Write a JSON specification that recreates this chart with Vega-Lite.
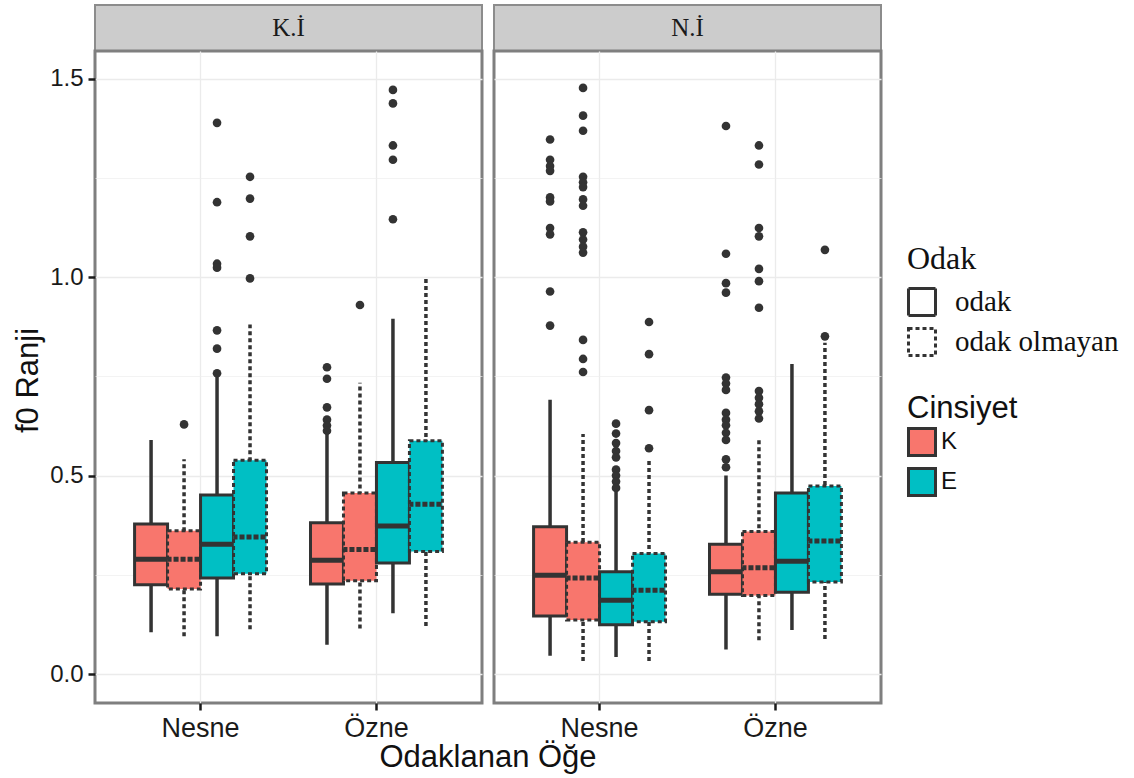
{
  "$schema": "https://vega.github.io/schema/vega-lite/v6.json",
  "padding": {"left": 11, "top": 4, "right": 5, "bottom": 5},
  "background": "white",
  "bounds": "flush",
  "columns": 2,
  "spacing": {"row": 0, "column": 12},
  "title": {"text": "Odaklanan Öğe", "orient": "bottom", "anchor": "middle", "frame": "group", "dx": 393, "fontSize": 31, "font": "Liberation Sans", "fontWeight": "normal", "color": "#111111", "offset": 0},
  "config": {
    "font": "Liberation Sans",
    "view": {"stroke": "#7f7f7f", "strokeWidth": 3},
    "axis": {"domain": false, "labelColor": "#1a1a1a", "titleColor": "#111111", "tickColor": "#1a1a1a", "tickWidth": 2.5, "tickSize": 7, "gridColor": "#ebebeb", "gridWidth": 1.3, "labelFont": "Liberation Sans", "titleFont": "Liberation Sans", "titleFontWeight": "normal", "labelFontSize": 24, "titleFontSize": 31, "labelPadding": 5},
    "legend": {"titleFontWeight": "normal", "titleColor": "#111111", "labelColor": "#111111", "labelLimit": 400}
  },
  "datasets": {
    "paneller": [{"panel": "K.İ"}, {"panel": "N.İ"}],
    "kutular": [
      {"panel": "K.İ", "oge": "Nesne", "cins": "K", "odak": "odak", "sira": "K-odak", "alt": 0.105, "q1": 0.225, "medyan": 0.289, "q3": 0.378, "ust": 0.590},
      {"panel": "K.İ", "oge": "Nesne", "cins": "K", "odak": "odak olmayan", "sira": "K-odak olmayan", "alt": 0.095, "q1": 0.214, "medyan": 0.289, "q3": 0.361, "ust": 0.541},
      {"panel": "K.İ", "oge": "Nesne", "cins": "E", "odak": "odak", "sira": "E-odak", "alt": 0.095, "q1": 0.242, "medyan": 0.327, "q3": 0.451, "ust": 0.753},
      {"panel": "K.İ", "oge": "Nesne", "cins": "E", "odak": "odak olmayan", "sira": "E-odak olmayan", "alt": 0.113, "q1": 0.253, "medyan": 0.345, "q3": 0.539, "ust": 0.881},
      {"panel": "K.İ", "oge": "Özne", "cins": "K", "odak": "odak", "sira": "K-odak", "alt": 0.074, "q1": 0.227, "medyan": 0.287, "q3": 0.381, "ust": 0.608},
      {"panel": "K.İ", "oge": "Özne", "cins": "K", "odak": "odak olmayan", "sira": "K-odak olmayan", "alt": 0.115, "q1": 0.235, "medyan": 0.314, "q3": 0.456, "ust": 0.734},
      {"panel": "K.İ", "oge": "Özne", "cins": "E", "odak": "odak", "sira": "E-odak", "alt": 0.153, "q1": 0.280, "medyan": 0.373, "q3": 0.533, "ust": 0.895},
      {"panel": "K.İ", "oge": "Özne", "cins": "E", "odak": "odak olmayan", "sira": "E-odak olmayan", "alt": 0.121, "q1": 0.309, "medyan": 0.428, "q3": 0.588, "ust": 1.0},
      {"panel": "N.İ", "oge": "Nesne", "cins": "K", "odak": "odak", "sira": "K-odak", "alt": 0.046, "q1": 0.146, "medyan": 0.249, "q3": 0.371, "ust": 0.691},
      {"panel": "N.İ", "oge": "Nesne", "cins": "K", "odak": "odak olmayan", "sira": "K-odak olmayan", "alt": 0.033, "q1": 0.136, "medyan": 0.242, "q3": 0.332, "ust": 0.605},
      {"panel": "N.İ", "oge": "Nesne", "cins": "E", "odak": "odak", "sira": "E-odak", "alt": 0.043, "q1": 0.124, "medyan": 0.186, "q3": 0.258, "ust": 0.460},
      {"panel": "N.İ", "oge": "Nesne", "cins": "E", "odak": "odak olmayan", "sira": "E-odak olmayan", "alt": 0.033, "q1": 0.132, "medyan": 0.211, "q3": 0.304, "ust": 0.541},
      {"panel": "N.İ", "oge": "Özne", "cins": "K", "odak": "odak", "sira": "K-odak", "alt": 0.062, "q1": 0.201, "medyan": 0.258, "q3": 0.327, "ust": 0.500},
      {"panel": "N.İ", "oge": "Özne", "cins": "K", "odak": "odak olmayan", "sira": "K-odak olmayan", "alt": 0.085, "q1": 0.198, "medyan": 0.268, "q3": 0.359, "ust": 0.593},
      {"panel": "N.İ", "oge": "Özne", "cins": "E", "odak": "odak", "sira": "E-odak", "alt": 0.111, "q1": 0.206, "medyan": 0.284, "q3": 0.456, "ust": 0.781},
      {"panel": "N.İ", "oge": "Özne", "cins": "E", "odak": "odak olmayan", "sira": "E-odak olmayan", "alt": 0.088, "q1": 0.232, "medyan": 0.335, "q3": 0.474, "ust": 0.835},
      {"panel": "K.İ", "oge": "Nesne", "cins": "K", "odak": "odak olmayan", "sira": "K-odak olmayan", "deger": 0.629},
      {"panel": "K.İ", "oge": "Nesne", "cins": "E", "odak": "odak", "sira": "E-odak", "deger": 1.389},
      {"panel": "K.İ", "oge": "Nesne", "cins": "E", "odak": "odak", "sira": "E-odak", "deger": 1.189},
      {"panel": "K.İ", "oge": "Nesne", "cins": "E", "odak": "odak", "sira": "E-odak", "deger": 1.034},
      {"panel": "K.İ", "oge": "Nesne", "cins": "E", "odak": "odak", "sira": "E-odak", "deger": 1.024},
      {"panel": "K.İ", "oge": "Nesne", "cins": "E", "odak": "odak", "sira": "E-odak", "deger": 0.866},
      {"panel": "K.İ", "oge": "Nesne", "cins": "E", "odak": "odak", "sira": "E-odak", "deger": 0.820},
      {"panel": "K.İ", "oge": "Nesne", "cins": "E", "odak": "odak", "sira": "E-odak", "deger": 0.758},
      {"panel": "K.İ", "oge": "Nesne", "cins": "E", "odak": "odak olmayan", "sira": "E-odak olmayan", "deger": 1.253},
      {"panel": "K.İ", "oge": "Nesne", "cins": "E", "odak": "odak olmayan", "sira": "E-odak olmayan", "deger": 1.198},
      {"panel": "K.İ", "oge": "Nesne", "cins": "E", "odak": "odak olmayan", "sira": "E-odak olmayan", "deger": 1.103},
      {"panel": "K.İ", "oge": "Nesne", "cins": "E", "odak": "odak olmayan", "sira": "E-odak olmayan", "deger": 0.997},
      {"panel": "K.İ", "oge": "Özne", "cins": "K", "odak": "odak", "sira": "K-odak", "deger": 0.773},
      {"panel": "K.İ", "oge": "Özne", "cins": "K", "odak": "odak", "sira": "K-odak", "deger": 0.744},
      {"panel": "K.İ", "oge": "Özne", "cins": "K", "odak": "odak", "sira": "K-odak", "deger": 0.672},
      {"panel": "K.İ", "oge": "Özne", "cins": "K", "odak": "odak", "sira": "K-odak", "deger": 0.641},
      {"panel": "K.İ", "oge": "Özne", "cins": "K", "odak": "odak", "sira": "K-odak", "deger": 0.626},
      {"panel": "K.İ", "oge": "Özne", "cins": "K", "odak": "odak", "sira": "K-odak", "deger": 0.613},
      {"panel": "K.İ", "oge": "Özne", "cins": "K", "odak": "odak olmayan", "sira": "K-odak olmayan", "deger": 0.930},
      {"panel": "K.İ", "oge": "Özne", "cins": "E", "odak": "odak", "sira": "E-odak", "deger": 1.472},
      {"panel": "K.İ", "oge": "Özne", "cins": "E", "odak": "odak", "sira": "E-odak", "deger": 1.438},
      {"panel": "K.İ", "oge": "Özne", "cins": "E", "odak": "odak", "sira": "E-odak", "deger": 1.332},
      {"panel": "K.İ", "oge": "Özne", "cins": "E", "odak": "odak", "sira": "E-odak", "deger": 1.296},
      {"panel": "K.İ", "oge": "Özne", "cins": "E", "odak": "odak", "sira": "E-odak", "deger": 1.146},
      {"panel": "N.İ", "oge": "Nesne", "cins": "K", "odak": "odak", "sira": "K-odak", "deger": 1.347},
      {"panel": "N.İ", "oge": "Nesne", "cins": "K", "odak": "odak", "sira": "K-odak", "deger": 1.296},
      {"panel": "N.İ", "oge": "Nesne", "cins": "K", "odak": "odak", "sira": "K-odak", "deger": 1.280},
      {"panel": "N.İ", "oge": "Nesne", "cins": "K", "odak": "odak", "sira": "K-odak", "deger": 1.268},
      {"panel": "N.İ", "oge": "Nesne", "cins": "K", "odak": "odak", "sira": "K-odak", "deger": 1.201},
      {"panel": "N.İ", "oge": "Nesne", "cins": "K", "odak": "odak", "sira": "K-odak", "deger": 1.191},
      {"panel": "N.İ", "oge": "Nesne", "cins": "K", "odak": "odak", "sira": "K-odak", "deger": 1.124},
      {"panel": "N.İ", "oge": "Nesne", "cins": "K", "odak": "odak", "sira": "K-odak", "deger": 1.108},
      {"panel": "N.İ", "oge": "Nesne", "cins": "K", "odak": "odak", "sira": "K-odak", "deger": 0.964},
      {"panel": "N.İ", "oge": "Nesne", "cins": "K", "odak": "odak", "sira": "K-odak", "deger": 0.878},
      {"panel": "N.İ", "oge": "Nesne", "cins": "K", "odak": "odak olmayan", "sira": "K-odak olmayan", "deger": 1.477},
      {"panel": "N.İ", "oge": "Nesne", "cins": "K", "odak": "odak olmayan", "sira": "K-odak olmayan", "deger": 1.407},
      {"panel": "N.İ", "oge": "Nesne", "cins": "K", "odak": "odak olmayan", "sira": "K-odak olmayan", "deger": 1.369},
      {"panel": "N.İ", "oge": "Nesne", "cins": "K", "odak": "odak olmayan", "sira": "K-odak olmayan", "deger": 1.253},
      {"panel": "N.İ", "oge": "Nesne", "cins": "K", "odak": "odak olmayan", "sira": "K-odak olmayan", "deger": 1.239},
      {"panel": "N.İ", "oge": "Nesne", "cins": "K", "odak": "odak olmayan", "sira": "K-odak olmayan", "deger": 1.227},
      {"panel": "N.İ", "oge": "Nesne", "cins": "K", "odak": "odak olmayan", "sira": "K-odak olmayan", "deger": 1.196},
      {"panel": "N.İ", "oge": "Nesne", "cins": "K", "odak": "odak olmayan", "sira": "K-odak olmayan", "deger": 1.180},
      {"panel": "N.İ", "oge": "Nesne", "cins": "K", "odak": "odak olmayan", "sira": "K-odak olmayan", "deger": 1.113},
      {"panel": "N.İ", "oge": "Nesne", "cins": "K", "odak": "odak olmayan", "sira": "K-odak olmayan", "deger": 1.095},
      {"panel": "N.İ", "oge": "Nesne", "cins": "K", "odak": "odak olmayan", "sira": "K-odak olmayan", "deger": 1.077},
      {"panel": "N.İ", "oge": "Nesne", "cins": "K", "odak": "odak olmayan", "sira": "K-odak olmayan", "deger": 1.062},
      {"panel": "N.İ", "oge": "Nesne", "cins": "K", "odak": "odak olmayan", "sira": "K-odak olmayan", "deger": 0.842},
      {"panel": "N.İ", "oge": "Nesne", "cins": "K", "odak": "odak olmayan", "sira": "K-odak olmayan", "deger": 0.794},
      {"panel": "N.İ", "oge": "Nesne", "cins": "K", "odak": "odak olmayan", "sira": "K-odak olmayan", "deger": 0.761},
      {"panel": "N.İ", "oge": "Nesne", "cins": "E", "odak": "odak", "sira": "E-odak", "deger": 0.631},
      {"panel": "N.İ", "oge": "Nesne", "cins": "E", "odak": "odak", "sira": "E-odak", "deger": 0.606},
      {"panel": "N.İ", "oge": "Nesne", "cins": "E", "odak": "odak", "sira": "E-odak", "deger": 0.582},
      {"panel": "N.İ", "oge": "Nesne", "cins": "E", "odak": "odak", "sira": "E-odak", "deger": 0.562},
      {"panel": "N.İ", "oge": "Nesne", "cins": "E", "odak": "odak", "sira": "E-odak", "deger": 0.546},
      {"panel": "N.İ", "oge": "Nesne", "cins": "E", "odak": "odak", "sira": "E-odak", "deger": 0.515},
      {"panel": "N.İ", "oge": "Nesne", "cins": "E", "odak": "odak", "sira": "E-odak", "deger": 0.500},
      {"panel": "N.İ", "oge": "Nesne", "cins": "E", "odak": "odak", "sira": "E-odak", "deger": 0.485},
      {"panel": "N.İ", "oge": "Nesne", "cins": "E", "odak": "odak", "sira": "E-odak", "deger": 0.469},
      {"panel": "N.İ", "oge": "Nesne", "cins": "E", "odak": "odak olmayan", "sira": "E-odak olmayan", "deger": 0.887},
      {"panel": "N.İ", "oge": "Nesne", "cins": "E", "odak": "odak olmayan", "sira": "E-odak olmayan", "deger": 0.806},
      {"panel": "N.İ", "oge": "Nesne", "cins": "E", "odak": "odak olmayan", "sira": "E-odak olmayan", "deger": 0.665},
      {"panel": "N.İ", "oge": "Nesne", "cins": "E", "odak": "odak olmayan", "sira": "E-odak olmayan", "deger": 0.569},
      {"panel": "N.İ", "oge": "Özne", "cins": "K", "odak": "odak", "sira": "K-odak", "deger": 1.381},
      {"panel": "N.İ", "oge": "Özne", "cins": "K", "odak": "odak", "sira": "K-odak", "deger": 1.059},
      {"panel": "N.İ", "oge": "Özne", "cins": "K", "odak": "odak", "sira": "K-odak", "deger": 0.985},
      {"panel": "N.İ", "oge": "Özne", "cins": "K", "odak": "odak", "sira": "K-odak", "deger": 0.961},
      {"panel": "N.İ", "oge": "Özne", "cins": "K", "odak": "odak", "sira": "K-odak", "deger": 0.747},
      {"panel": "N.İ", "oge": "Özne", "cins": "K", "odak": "odak", "sira": "K-odak", "deger": 0.732},
      {"panel": "N.İ", "oge": "Özne", "cins": "K", "odak": "odak", "sira": "K-odak", "deger": 0.716},
      {"panel": "N.İ", "oge": "Özne", "cins": "K", "odak": "odak", "sira": "K-odak", "deger": 0.658},
      {"panel": "N.İ", "oge": "Özne", "cins": "K", "odak": "odak", "sira": "K-odak", "deger": 0.641},
      {"panel": "N.İ", "oge": "Özne", "cins": "K", "odak": "odak", "sira": "K-odak", "deger": 0.627},
      {"panel": "N.İ", "oge": "Özne", "cins": "K", "odak": "odak", "sira": "K-odak", "deger": 0.608},
      {"panel": "N.İ", "oge": "Özne", "cins": "K", "odak": "odak", "sira": "K-odak", "deger": 0.590},
      {"panel": "N.İ", "oge": "Özne", "cins": "K", "odak": "odak", "sira": "K-odak", "deger": 0.541},
      {"panel": "N.İ", "oge": "Özne", "cins": "K", "odak": "odak", "sira": "K-odak", "deger": 0.521},
      {"panel": "N.İ", "oge": "Özne", "cins": "K", "odak": "odak olmayan", "sira": "K-odak olmayan", "deger": 1.332},
      {"panel": "N.İ", "oge": "Özne", "cins": "K", "odak": "odak olmayan", "sira": "K-odak olmayan", "deger": 1.284},
      {"panel": "N.İ", "oge": "Özne", "cins": "K", "odak": "odak olmayan", "sira": "K-odak olmayan", "deger": 1.124},
      {"panel": "N.İ", "oge": "Özne", "cins": "K", "odak": "odak olmayan", "sira": "K-odak olmayan", "deger": 1.103},
      {"panel": "N.İ", "oge": "Özne", "cins": "K", "odak": "odak olmayan", "sira": "K-odak olmayan", "deger": 1.021},
      {"panel": "N.İ", "oge": "Özne", "cins": "K", "odak": "odak olmayan", "sira": "K-odak olmayan", "deger": 0.990},
      {"panel": "N.İ", "oge": "Özne", "cins": "K", "odak": "odak olmayan", "sira": "K-odak olmayan", "deger": 0.923},
      {"panel": "N.İ", "oge": "Özne", "cins": "K", "odak": "odak olmayan", "sira": "K-odak olmayan", "deger": 0.713},
      {"panel": "N.İ", "oge": "Özne", "cins": "K", "odak": "odak olmayan", "sira": "K-odak olmayan", "deger": 0.696},
      {"panel": "N.İ", "oge": "Özne", "cins": "K", "odak": "odak olmayan", "sira": "K-odak olmayan", "deger": 0.680},
      {"panel": "N.İ", "oge": "Özne", "cins": "K", "odak": "odak olmayan", "sira": "K-odak olmayan", "deger": 0.662},
      {"panel": "N.İ", "oge": "Özne", "cins": "K", "odak": "odak olmayan", "sira": "K-odak olmayan", "deger": 0.644},
      {"panel": "N.İ", "oge": "Özne", "cins": "E", "odak": "odak olmayan", "sira": "E-odak olmayan", "deger": 1.069},
      {"panel": "N.İ", "oge": "Özne", "cins": "E", "odak": "odak olmayan", "sira": "E-odak olmayan", "deger": 0.851}
    ]
  },
  "concat": [
    {
      "data": {"name": "paneller"},
      "transform": [{"filter": "datum.panel == 'K.İ'"}],
      "width": 387,
      "height": 46,
      "view": {"fill": "#cccccc", "stroke": "#8c8c8c", "strokeWidth": 2},
      "mark": {"type": "text", "font": "Liberation Serif", "fontSize": 25, "color": "#1a1a1a", "baseline": "middle", "align": "center"},
      "encoding": {"text": {"field": "panel", "type": "nominal"}}
    },
    {
      "data": {"name": "paneller"},
      "transform": [{"filter": "datum.panel == 'N.İ'"}],
      "width": 387,
      "height": 46,
      "view": {"fill": "#cccccc", "stroke": "#8c8c8c", "strokeWidth": 2},
      "mark": {"type": "text", "font": "Liberation Serif", "fontSize": 25, "color": "#1a1a1a", "baseline": "middle", "align": "center"},
      "encoding": {"text": {"field": "panel", "type": "nominal"}}
    },
    {
      "data": {"name": "kutular"},
      "transform": [{"filter": "datum.panel == 'K.İ'"}],
      "width": 387,
      "height": 652,
      "resolve": {"axis": {"y": "independent"}},
      "encoding": {
        "x": {"field": "oge", "type": "nominal", "title": null, "sort": ["Nesne", "Özne"], "scale": {"paddingInner": 0.25, "paddingOuter": 0.225}, "axis": {"labelAngle": 0, "bandPosition": 0.5, "grid": true, "labelFontSize": 27}},
        "xOffset": {"field": "sira", "type": "nominal", "sort": ["K-odak", "K-odak olmayan", "E-odak", "E-odak olmayan"], "scale": {"paddingInner": 0, "paddingOuter": 0}}
      },
      "layer": [
        {
          "transform": [{"filter": "isValid(datum.q1)"}],
          "mark": {"type": "rule", "color": "#333333", "strokeWidth": 3.5},
          "encoding": {
            "y": {"field": "alt", "type": "quantitative", "scale": {"domain": [-0.073, 1.57], "nice": false, "zero": false}, "title": "f0 Ranji", "axis": {"values": [0, 0.5, 1, 1.5], "format": ".1f", "titlePadding": 5, "titleY": 329, "titleFontSize": 31}},
            "y2": {"field": "ust"},
            "strokeDash": {"field": "odak", "type": "nominal", "scale": {"domain": ["odak", "odak olmayan"], "range": [[1, 0], [4, 3]]}}
          }
        },
        {
          "transform": [{"filter": "isValid(datum.q1)"}],
          "mark": {"type": "bar", "stroke": "#333333", "strokeWidth": 3, "opacity": 1},
          "encoding": {
            "y": {"field": "q1", "type": "quantitative", "axis": null},
            "y2": {"field": "q3"},
            "fill": {"field": "cins", "type": "nominal", "title": "Cinsiyet", "scale": {"domain": ["K", "E"], "range": ["#F8766D", "#00BFC4"]}, "legend": {"orient": "none", "legendX": 812, "legendY": 389, "titleFontSize": 31, "titleFont": "Liberation Sans", "labelFontSize": 24, "labelFont": "Liberation Sans", "symbolType": "square", "symbolSize": 729, "symbolStrokeColor": "#333333", "symbolStrokeWidth": 3, "symbolOpacity": 1, "rowPadding": 0, "labelOffset": 4, "titlePadding": 2}},
            "strokeDash": {"field": "odak", "type": "nominal", "title": "Odak", "legend": {"orient": "none", "legendX": 812, "legendY": 239, "titleFontSize": 32, "titleFont": "Liberation Serif", "labelFontSize": 29, "labelFont": "Liberation Serif", "symbolType": "square", "symbolSize": 729, "symbolFillColor": "white", "symbolStrokeColor": "#333333", "symbolStrokeWidth": 3, "rowPadding": 0, "labelOffset": 18, "titlePadding": 11}}
          }
        },
        {
          "transform": [{"filter": "isValid(datum.q1)"}],
          "mark": {"type": "bar", "stroke": "#333333", "strokeWidth": 5, "fillOpacity": 0},
          "encoding": {
            "y": {"field": "medyan", "type": "quantitative", "axis": null},
            "y2": {"field": "medyan"},
            "strokeDash": {"field": "odak", "type": "nominal"}
          }
        },
        {
          "transform": [{"filter": "isValid(datum.deger)"}],
          "mark": {"type": "point", "filled": true, "color": "#333333", "size": 75, "opacity": 1},
          "encoding": {
            "y": {"field": "deger", "type": "quantitative", "axis": {"orient": "left", "values": [0.25, 0.75, 1.25], "labels": false, "ticks": false, "title": null, "grid": true, "gridWidth": 0.7, "gridColor": "#eeeeee"}}
          }
        }
      ]
    },
    {
      "data": {"name": "kutular"},
      "transform": [{"filter": "datum.panel == 'N.İ'"}],
      "width": 387,
      "height": 652,
      "resolve": {"axis": {"y": "independent"}},
      "encoding": {
        "x": {"field": "oge", "type": "nominal", "title": null, "sort": ["Nesne", "Özne"], "scale": {"paddingInner": 0.25, "paddingOuter": 0.225}, "axis": {"labelAngle": 0, "bandPosition": 0.5, "grid": true, "labelFontSize": 27}},
        "xOffset": {"field": "sira", "type": "nominal", "sort": ["K-odak", "K-odak olmayan", "E-odak", "E-odak olmayan"], "scale": {"paddingInner": 0, "paddingOuter": 0}}
      },
      "layer": [
        {
          "transform": [{"filter": "isValid(datum.q1)"}],
          "mark": {"type": "rule", "color": "#333333", "strokeWidth": 3.5},
          "encoding": {
            "y": {"field": "alt", "type": "quantitative", "scale": {"domain": [-0.073, 1.57], "nice": false, "zero": false}, "title": null, "axis": {"values": [0, 0.5, 1, 1.5], "labels": false, "ticks": false}},
            "y2": {"field": "ust"},
            "strokeDash": {"field": "odak", "type": "nominal", "scale": {"domain": ["odak", "odak olmayan"], "range": [[1, 0], [4, 3]]}}
          }
        },
        {
          "transform": [{"filter": "isValid(datum.q1)"}],
          "mark": {"type": "bar", "stroke": "#333333", "strokeWidth": 3, "opacity": 1},
          "encoding": {
            "y": {"field": "q1", "type": "quantitative", "axis": null},
            "y2": {"field": "q3"},
            "fill": {"field": "cins", "type": "nominal", "title": "Cinsiyet", "scale": {"domain": ["K", "E"], "range": ["#F8766D", "#00BFC4"]}, "legend": {"orient": "none", "legendX": 812, "legendY": 389, "titleFontSize": 31, "titleFont": "Liberation Sans", "labelFontSize": 24, "labelFont": "Liberation Sans", "symbolType": "square", "symbolSize": 729, "symbolStrokeColor": "#333333", "symbolStrokeWidth": 3, "symbolOpacity": 1, "rowPadding": 0, "labelOffset": 4, "titlePadding": 2}},
            "strokeDash": {"field": "odak", "type": "nominal", "title": "Odak", "legend": {"orient": "none", "legendX": 812, "legendY": 239, "titleFontSize": 32, "titleFont": "Liberation Serif", "labelFontSize": 29, "labelFont": "Liberation Serif", "symbolType": "square", "symbolSize": 729, "symbolFillColor": "white", "symbolStrokeColor": "#333333", "symbolStrokeWidth": 3, "rowPadding": 0, "labelOffset": 18, "titlePadding": 11}}
          }
        },
        {
          "transform": [{"filter": "isValid(datum.q1)"}],
          "mark": {"type": "bar", "stroke": "#333333", "strokeWidth": 5, "fillOpacity": 0},
          "encoding": {
            "y": {"field": "medyan", "type": "quantitative", "axis": null},
            "y2": {"field": "medyan"},
            "strokeDash": {"field": "odak", "type": "nominal"}
          }
        },
        {
          "transform": [{"filter": "isValid(datum.deger)"}],
          "mark": {"type": "point", "filled": true, "color": "#333333", "size": 75, "opacity": 1},
          "encoding": {
            "y": {"field": "deger", "type": "quantitative", "axis": {"orient": "left", "values": [0.25, 0.75, 1.25], "labels": false, "ticks": false, "title": null, "grid": true, "gridWidth": 0.7, "gridColor": "#eeeeee"}}
          }
        }
      ]
    }
  ]
}
